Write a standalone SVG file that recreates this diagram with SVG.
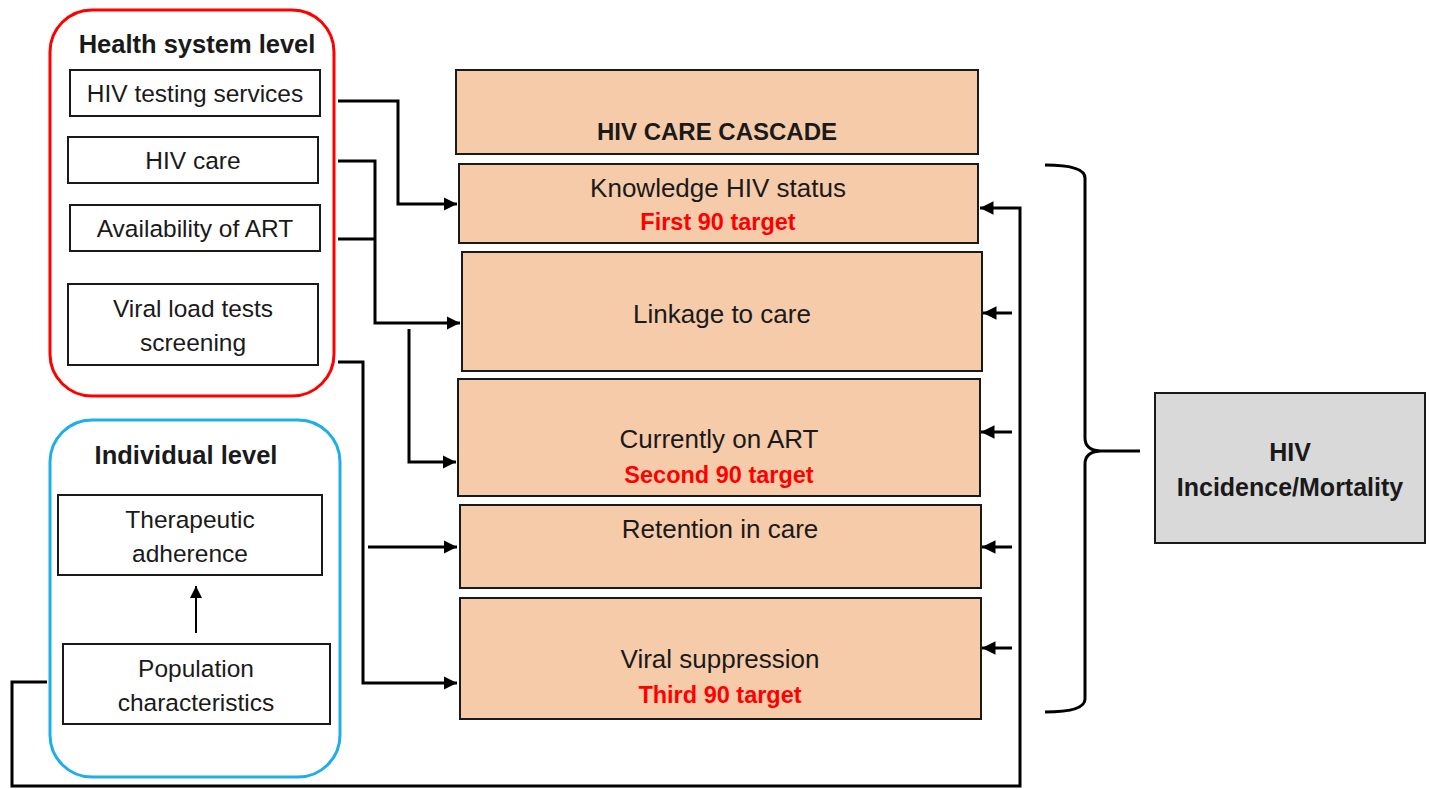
<svg xmlns="http://www.w3.org/2000/svg" width="1431" height="789" viewBox="0 0 1431 789">
<defs>
<style>
text{font-family:"Liberation Sans",Arial,sans-serif;fill:#1a1a1a;text-anchor:middle}
.t{font-size:24.5px}
.c{font-size:26px}
.b{font-weight:bold}
.red{fill:#ff0000;font-weight:bold;font-size:23.5px}
.box{fill:#fff;stroke:#1a1a1a;stroke-width:2}
.cas{fill:#f6cbaa;stroke:#1a1a1a;stroke-width:2}
.ln{fill:none;stroke:#000;stroke-width:3}
</style>
<marker id="ah" viewBox="0 0 10 10" refX="10" refY="5" markerWidth="4.5" markerHeight="4.5" orient="auto" markerUnits="strokeWidth"><path d="M0,0L10,5L0,10z" fill="#000"/></marker>
<marker id="ahs" viewBox="0 0 10 10" refX="10" refY="5" markerWidth="6" markerHeight="6" orient="auto" markerUnits="strokeWidth"><path d="M0,0L10,5L0,10z" fill="#000"/></marker>
</defs>
<rect width="1431" height="789" fill="#fff"/>

<g id="health-system">
<rect x="50" y="10" width="284" height="386" rx="42" fill="#fff" stroke="#ff0000" stroke-width="3"/>
<text class="b" x="197" y="53" font-size="25.5">Health system level</text>
</g>
<g id="hiv-testing"><rect class="box" x="70" y="70" width="250" height="46"/><text class="t" x="195" y="102">HIV testing services</text></g>
<g id="hiv-care"><rect class="box" x="68" y="137" width="250" height="46"/><text class="t" x="193" y="169">HIV care</text></g>
<g id="art-avail"><rect class="box" x="70" y="205" width="250" height="46"/><text class="t" x="195" y="237">Availability of ART</text></g>
<g id="viral-load"><rect class="box" x="68" y="284" width="250" height="81"/><text class="t" x="193" y="317">Viral load tests</text><text class="t" x="193" y="351">screening</text></g>

<g id="individual">
<rect x="50" y="420" width="290" height="357" rx="42" fill="#fff" stroke="#1eaee8" stroke-width="3"/>
<text class="b" x="186" y="464" font-size="25.5">Individual level</text>
</g>
<g id="adherence"><rect class="box" x="58" y="495" width="264" height="80"/><text class="t" x="190" y="528">Therapeutic</text><text class="t" x="190" y="562">adherence</text></g>
<g id="population"><rect class="box" x="63" y="644" width="267" height="80"/><text class="t" x="196" y="677">Population</text><text class="t" x="196" y="711">characteristics</text></g>

<g id="cascade-header"><rect class="cas" x="456" y="70" width="522" height="84"/><text class="b" x="717" y="140" font-size="24">HIV CARE CASCADE</text></g>
<g id="knowledge"><rect class="cas" x="459" y="164" width="519" height="79"/><text class="c" x="718" y="197">Knowledge HIV status</text><text class="red" x="718" y="230">First 90 target</text></g>
<g id="linkage"><rect class="cas" x="462" y="252" width="520" height="119"/><text class="c" x="722" y="323">Linkage to care</text></g>
<g id="on-art"><rect class="cas" x="458" y="379" width="522" height="117"/><text class="c" x="719" y="448">Currently on ART</text><text class="red" x="719" y="483">Second 90 target</text></g>
<g id="retention"><rect class="cas" x="460" y="505" width="521" height="83"/><text class="c" x="720" y="538">Retention in care</text></g>
<g id="viral-supp"><rect class="cas" x="460" y="598" width="521" height="121"/><text class="c" x="720" y="668">Viral suppression</text><text class="red" x="720" y="703">Third 90 target</text></g>

<g id="outcome"><rect x="1155" y="393" width="270" height="150" fill="#d9d9d9" stroke="#1a1a1a" stroke-width="2"/><text class="b" x="1290" y="461" font-size="25">HIV</text><text class="b" x="1290" y="496" font-size="25">Incidence/Mortality</text></g>

<g id="connectors">
<path class="ln" d="M338,101H398V204H457" marker-end="url(#ah)"/>
<path class="ln" d="M338,161H375V323H460" marker-end="url(#ah)"/>
<path class="ln" d="M338,239H375"/>
<path class="ln" d="M409,329V462H456" marker-end="url(#ah)"/>
<path class="ln" d="M338,362H363V683H457" marker-end="url(#ah)"/>
<path class="ln" d="M368,547H457" marker-end="url(#ah)"/>
<path stroke="#000" stroke-width="2" fill="none" d="M196,633V586" marker-end="url(#ahs)"/>
<path class="ln" d="M47,682H12V786H1020V208H980" marker-end="url(#ah)"/>
<path class="ln" d="M1012,313H983" marker-end="url(#ah)"/>
<path class="ln" d="M1012,432H981" marker-end="url(#ah)"/>
<path class="ln" d="M1012,547H982" marker-end="url(#ah)"/>
<path class="ln" d="M1012,648H982" marker-end="url(#ah)"/>
<path class="ln" d="M1045,165Q1085,165 1085,178V438Q1085,450 1100,451H1140M1100,451Q1085,452 1085,464V699Q1085,712 1045,712"/>
</g>
</svg>
